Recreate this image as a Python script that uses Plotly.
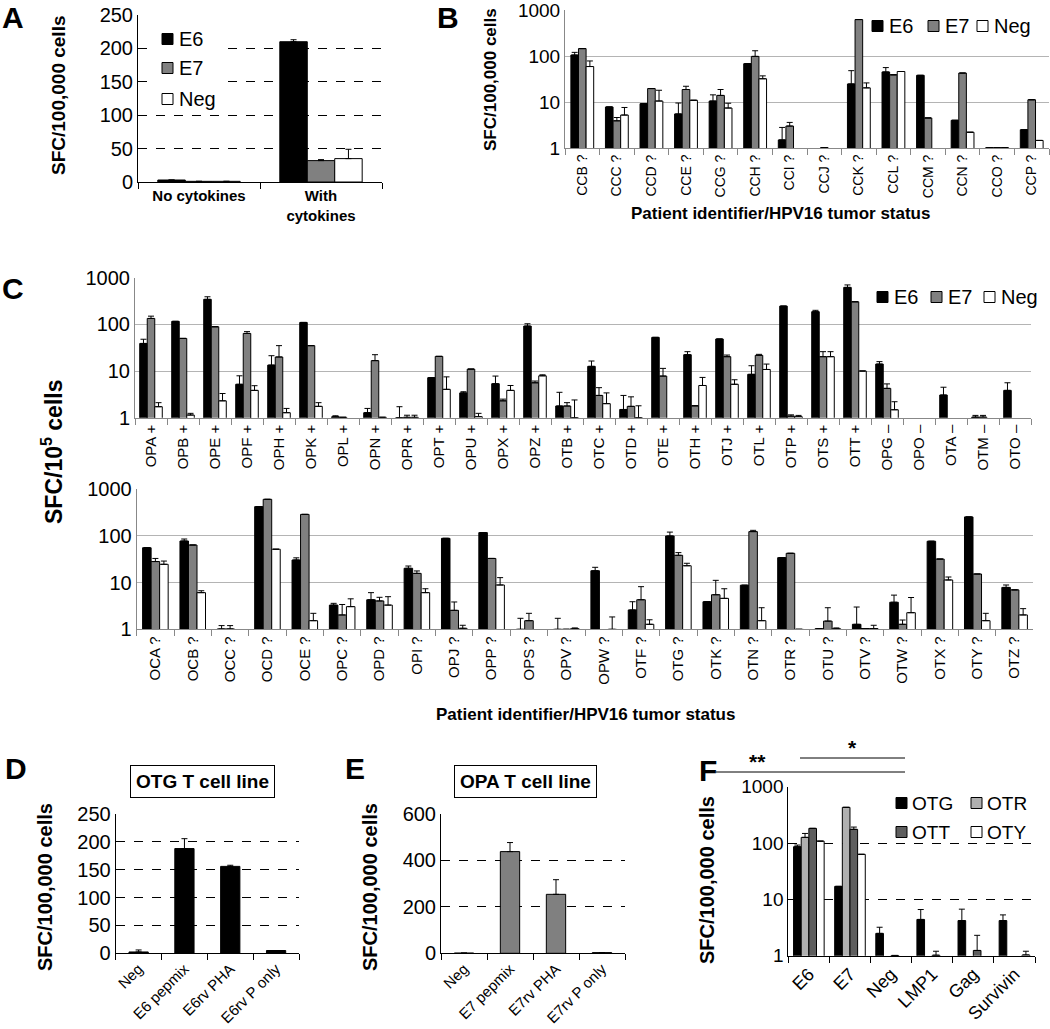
import plotly.graph_objects as go

W, H = 1050, 1029
FONT = "Liberation Sans, Arial, sans-serif"

# ---------------- data ----------------
# Panel A
cats_a = ["No cytokines", "With cytokines"]
a_e6 = [3.0, 210]
a_e6_hi = [None, 213]
a_e7 = [1.0, 32]
a_e7_hi = [None, 33.5]
a_neg = [1.0, 35]
a_neg_hi = [None, 49]

# Panel B
cats_b = ["CCB ?", "CCC ?", "CCD ?", "CCE ?", "CCG ?", "CCH ?", "CCI ?", "CCJ ?",
          "CCK ?", "CCL ?", "CCM ?", "CCN ?", "CCO ?", "CCP ?"]
b_e6 = [105, 7.8, 9.2, 5.5, 10.5, 68, 1.5, None, 24.7, 45, 38, 4.0, 1.02, 2.5]
b_e6_hi = [120, None, None, 9.5, 14.3, None, 2.8, None, 48, 56, None, None, None, None]
b_e7 = [145, 3.9, 19.6, 18.7, 13.9, 98, 3.0, 1.02, 620, 39, 4.5, 42.6, 1.02, 11.2]
b_e7_hi = [None, 4.6, None, 22, 18.7, 130, 3.6, None, None, None, None, None, None, None]
b_neg = [59, 5.2, 10.5, 10.9, 7.4, 32, None, None, 20.3, 46, None, 2.2, 1.02, 1.46]
b_neg_hi = [78, 7.6, 18, None, 9.4, 37, None, None, 26, None, None, None, None, None]

# Panel C (top row)
cats_c1 = ["OPA +", "OPB +", "OPE +", "OPF +", "OPH +", "OPK +", "OPL +", "OPN +", "OPR +",
           "OPT +", "OPU +", "OPX +", "OPZ +", "OTB +", "OTC +", "OTD +", "OTE +", "OTH +",
           "OTJ +", "OTL +", "OTP +", "OTS +", "OTT +", "OPG –", "OPO –", "OTA –", "OTM –", "OTO –"]
c1_e6 = [39, 116, 344, 5.2, 13.4, 110, 1.05, 1.28, 1.0, 7.2, 3.4, 5.35, 92, 1.78, 12.6, 1.5,
         52.6, 22.4, 48.5, 8.5, 246, 187, 620, 14.1, None, 3.06, 1.03, 3.85]
c1_e6_hi = [48, None, 390, 7.9, 21.3, None, 1.1, 1.58, 1.72, None, 3.6, 7.8, 103, 3.5, 16.4, 3.0,
            None, 26, None, 13, None, 200, 700, 15.9, None, 4.5, 1.12, 5.6]
c1_e7 = [134, 50, 89, 64, 20, 35, 1.02, 16.7, 1.02, 20.6, 11, 2.3, 5.6, 1.78, 3.0, 1.75,
         7.8, 1.8, 20.3, 21.7, 1.08, 20.3, 305, 4.25, None, None, 1.03, None]
c1_e7_hi = [150, None, None, 70, 35, None, None, 22.4, 1.13, None, None, 2.5, 6.1, 2.1, 4.4, 2.8,
            11.4, None, 22, 22.8, 1.15, 26, None, 5.3, None, None, 1.12, None]
c1_neg = [1.72, 1.14, 2.3, 3.85, 1.28, 1.75, None, 1.02, 1.02, 4.05, 1.05, 3.85, 7.9, 1.0, 2.0, 1.0,
          None, 4.9, 5.2, 10.8, 1.05, 20.3, 10, 1.48, None, None, None, None]
c1_neg_hi = [2.1, 1.24, 3.3, 4.85, 1.58, 2.1, None, None, 1.13, 7.5, 1.24, 4.9, 8.3, 2.4, 3.4, 1.8,
             None, 7.3, 6.5, 14.1, 1.12, 26, None, 2.2, None, None, None, None]

# Panel C (bottom row)
cats_c2 = ["OCA ?", "OCB ?", "OCC ?", "OCD ?", "OCE ?", "OPC ?", "OPD ?", "OPI ?", "OPJ ?",
           "OPP ?", "OPS ?", "OPV ?", "OPW ?", "OTF ?", "OTG ?", "OTK ?", "OTN ?", "OTR ?",
           "OTU ?", "OTV ?", "OTW ?", "OTX ?", "OTY ?", "OTZ ?"]
c2_e6 = [56, 78, 1.02, 425, 30.6, 3.3, 4.3, 20.3, 89, 118, 1.0, 1.0, 18, 2.6, 100, 3.9, 8.8,
         34.3, 1.03, 1.28, 3.8, 77, 256, 7.9]
c2_e6_hi = [None, 86, 1.2, None, 34, 3.6, 6.1, 22.7, None, None, 1.72, 1.72, 21.3, 3.9, 121, None,
            None, None, None, 3.0, 5.4, None, None, 8.9]
c2_e7 = [28.3, 64, 1.02, 610, 290, 2.03, 4.05, 15.8, 2.55, 33, 1.53, 1.0, None, 4.3, 38.5, 5.5,
         124, 42.5, 1.5, 1.04, 1.28, 32, 15.3, 7.0]
c2_e7_hi = [33, None, 1.2, None, None, 3.4, 4.85, 17.8, 3.85, None, 2.2, None, None, 8.2, 44, 11.2,
            132, None, 2.9, None, 1.58, None, None, None]
c2_neg = [24.7, 6.1, None, 52, 1.53, 3.06, 3.3, 6.1, 1.05, 8.9, None, 1.03, 1.0, 1.28, 23, 4.6,
          1.53, 1.0, 1.03, 1.04, 2.27, 11.4, 1.53, 2.03]
c2_neg_hi = [29, 6.7, None, None, 2.2, 4.5, 5.0, 7.4, 1.22, 12.8, None, 1.07, 1.84, 1.6, 26, 7.4,
             2.9, None, 1.07, 1.22, 4.8, 13.2, 2.2, 2.77]

# Panel D
cats_d = ["Neg", "E6 pepmix", "E6rv PHA", "E6rv P only"]
d_vals = [2.4, 188, 156, 5]
d_hi = [6, 205.7, 158, None]

# Panel E
cats_e = ["Neg", "E7 pepmix", "E7rv PHA", "E7rv P only"]
e_vals = [1, 438, 254, 3]
e_hi = [None, 477, 317, None]

# Panel F
cats_f = ["E6", "E7", "Neg", "LMP1", "Gag", "Survivin"]
f_otg = [86, 17, 2.49, 4.4, 4.2, 4.2]
f_otg_hi = [92, None, 3.2, 6.6, 6.7, 5.3]
f_otr = [126, 430, None, None, None, None]
f_otr_hi = [148, None, None, None, None, None]
f_ott = [182, 175, 1.01, 1.02, 1.24, None]
f_ott_hi = [None, 192, None, 1.2, 2.3, None]
f_oty = [108, 63, None, None, None, 1.03]
f_oty_hi = [None, None, None, None, None, 1.2]

# ---------------- helpers ----------------
def X(p):
    return p / W


def Y(p):
    return 1 - p / H


fig = go.Figure()


def add_bar(name, cats, vals, hi, color, ax, offset, width):
    err = [(h - v) if (h is not None and v is not None) else 0 for v, h in zip(vals, hi)]
    fig.add_trace(go.Bar(
        x=cats, y=vals, name=name,
        marker=dict(color=color, line=dict(color="black", width=1)),
        offset=offset, width=width,
        xaxis="x" + ax, yaxis="y" + ax,
        error_y=dict(type="data", array=err, arrayminus=[0] * len(err), symmetric=False,
                     color="black", thickness=1, width=3),
        showlegend=False, hoverinfo="skip",
    ))


BLK, GRY, WHT = "#000000", "#808080", "#ffffff"
LGRY, DGRY = "#b0b0b0", "#5e5e5e"

# A
w = 0.225
add_bar("E6", cats_a, a_e6, a_e6_hi, BLK, "", -1.5 * w, w)
add_bar("E7", cats_a, a_e7, a_e7_hi, GRY, "", -0.5 * w, w)
add_bar("Neg", cats_a, a_neg, a_neg_hi, WHT, "", 0.5 * w, w)
# B
w = 0.22
add_bar("E6", cats_b, b_e6, b_e6_hi, BLK, "2", -1.5 * w, w)
add_bar("E7", cats_b, b_e7, b_e7_hi, GRY, "2", -0.5 * w, w)
add_bar("Neg", cats_b, b_neg, b_neg_hi, WHT, "2", 0.5 * w, w)
# C top
w = 0.235
add_bar("E6", cats_c1, c1_e6, c1_e6_hi, BLK, "3", -1.5 * w, w)
add_bar("E7", cats_c1, c1_e7, c1_e7_hi, GRY, "3", -0.5 * w, w)
add_bar("Neg", cats_c1, c1_neg, c1_neg_hi, WHT, "3", 0.5 * w, w)
# C bottom
w = 0.228
add_bar("E6", cats_c2, c2_e6, c2_e6_hi, BLK, "4", -1.5 * w, w)
add_bar("E7", cats_c2, c2_e7, c2_e7_hi, GRY, "4", -0.5 * w, w)
add_bar("Neg", cats_c2, c2_neg, c2_neg_hi, WHT, "4", 0.5 * w, w)
# D
add_bar("OTG", cats_d, d_vals, d_hi, BLK, "5", -0.21, 0.42)
# E
add_bar("OPA", cats_e, e_vals, e_hi, GRY, "6", -0.21, 0.42)
# F
w = 0.186
add_bar("OTG", cats_f, f_otg, f_otg_hi, BLK, "7", -2 * w, w)
add_bar("OTR", cats_f, f_otr, f_otr_hi, LGRY, "7", -1 * w, w)
add_bar("OTT", cats_f, f_ott, f_ott_hi, DGRY, "7", 0, w)
add_bar("OTY", cats_f, f_oty, f_oty_hi, WHT, "7", 1 * w, w)


# ---------------- axes ----------------
def cat_x(dom, n, ax, linecolor="black", angle=0, size=12, ticktext=None, cats=None):
    d = dict(domain=[X(dom[0]), X(dom[1])], anchor="y" + ax, type="category",
             range=[-0.5, n - 0.5], showline=True, linecolor=linecolor, linewidth=1,
             ticks="outside", tickson="boundaries", ticklen=6, tickcolor=linecolor,
             tickangle=angle, tickfont=dict(size=size, family=FONT, color="black"),
             showgrid=False, zeroline=False, fixedrange=True, automargin=False,
             ticklabeloverflow="allow")
    if ticktext is not None:
        d["tickmode"] = "array"
        d["tickvals"] = cats
        d["ticktext"] = ticktext
    return d


def lin_y(dom, ax, rng, dtick, size=20):
    return dict(domain=[Y(dom[1]), Y(dom[0])], anchor="x" + ax, range=rng, dtick=dtick,
                showgrid=True, gridcolor="black", gridwidth=1, griddash="dash",
                showline=True, linecolor="black", linewidth=1, ticks="",
                tickfont=dict(size=size, family=FONT, color="black"), zeroline=False,
                fixedrange=True, automargin=False, ticklabeloverflow="allow")


def log_y(dom, ax, size=20, gridcolor="#b4b4b4", dash="solid", linecolor="#888888"):
    return dict(domain=[Y(dom[1]), Y(dom[0])], anchor="x" + ax, type="log", range=[0, 3],
                tickmode="array", tickvals=[1, 10, 100, 1000], ticktext=["1", "10", "100", "1000"],
                showgrid=True, gridcolor=gridcolor, gridwidth=1, griddash=dash,
                showline=True, linecolor=linecolor, linewidth=1, ticks="",
                tickfont=dict(size=size, family=FONT, color="black"), zeroline=False,
                fixedrange=True, automargin=False, ticklabeloverflow="allow")


fig.update_layout(
    width=W, height=H, margin=dict(l=0, r=0, t=0, b=0, pad=0, autoexpand=False),
    paper_bgcolor="white", plot_bgcolor="white", barmode="overlay", showlegend=False,
    font=dict(family=FONT, color="black"),
    xaxis=cat_x((138, 382), 2, "", size=15, cats=cats_a,
                ticktext=["<b>No cytokines</b>", "<b>With<br>cytokines</b>"]),
    yaxis=lin_y((15, 182), "", [0, 250], 50),
    xaxis2=cat_x((565, 1049), 14, "2", linecolor="#888888", angle=-90, size=14),
    yaxis2=log_y((10, 148), "2", size=19),
    xaxis3=cat_x((135, 1031), 28, "3", linecolor="#888888", angle=-90, size=15),
    yaxis3=log_y((277.7, 417.7), "3"),
    xaxis4=cat_x((136.7, 1033.3), 24, "4", linecolor="#888888", angle=-90, size=15),
    yaxis4=log_y((489.3, 629.3), "4"),
    xaxis5=cat_x((115.7, 299), 4, "5", angle=-45, size=15),
    yaxis5=lin_y((814, 953.3), "5", [0, 250], 50),
    xaxis6=cat_x((441, 625), 4, "6", angle=-45, size=15),
    yaxis6=lin_y((814, 953.3), "6", [0, 600], 200),
    xaxis7=cat_x((788.3, 1035), 6, "7", angle=-45, size=18),
    yaxis7=log_y((786.7, 955.7), "7", size=19, gridcolor="black", dash="dash", linecolor="black"),
)

ann = []
shapes = []


def text(px, py, s, size, bold=True, angle=0, box=False, xanchor="center", pad=4):
    d = dict(x=X(px), y=Y(py), xref="paper", yref="paper", showarrow=False,
             text=("<b>%s</b>" % s) if bold else s, textangle=angle,
             font=dict(size=size, family=FONT, color="black"),
             xanchor=xanchor, yanchor="middle")
    if box:
        d.update(bordercolor="black", borderwidth=1, borderpad=pad, bgcolor="white")
    ann.append(d)


def rect(x0, y0, x1, y1, fill, line="black", width=1):
    shapes.append(dict(type="rect", xref="paper", yref="paper", x0=X(x0), x1=X(x1),
                       y0=Y(y1), y1=Y(y0), fillcolor=fill, layer="above",
                       line=dict(color=line, width=width)))


def line(x0, y0, x1, y1):
    shapes.append(dict(type="line", xref="paper", yref="paper", x0=X(x0), x1=X(x1),
                       y0=Y(y0), y1=Y(y1), layer="above", line=dict(color="black", width=1)))


def legend_item(x0, yc, size, fill, label, fsize, gap=4):
    rect(x0, yc - size / 2, x0 + size, yc + size / 2, fill)
    text(x0 + size + gap, yc, label, fsize, bold=False, xanchor="left")


# legend A (white box hides the dashed grid behind it)
rect(147, 24, 228, 109, "white", line="white", width=0)
legend_item(162, 39, 11, BLK, "E6", 20)
legend_item(162, 68, 11, GRY, "E7", 20)
legend_item(162, 99, 11, WHT, "Neg", 20)
# legend B
legend_item(872, 26, 11, BLK, "E6", 20)
legend_item(928, 26, 11, GRY, "E7", 20)
legend_item(977, 26, 11, WHT, "Neg", 20)
# legend C
legend_item(877, 297, 11, BLK, "E6", 20)
legend_item(931, 297, 11, GRY, "E7", 20)
legend_item(984, 297, 11, WHT, "Neg", 20)
# legend F
legend_item(896, 803, 11, BLK, "OTG", 19, gap=3)
legend_item(971, 803, 11, LGRY, "OTR", 19, gap=3)
legend_item(896, 832, 11, DGRY, "OTT", 19, gap=3)
legend_item(971, 832, 11, WHT, "OTY", 19, gap=3)

# panel letters
text(13, 17, "A", 30)
text(448, 17, "B", 30)
text(13, 289, "C", 30)
text(16, 768, "D", 30)
text(355, 768, "E", 30)
text(708, 770, "F", 30)
# y titles
text(58, 95, "SFC/100,000 cells", 19, angle=-90)
text(491, 80, "SFC/100,000 cells", 17, angle=-90)
text(52, 452, "SFC/10<sup>5</sup> cells", 23, angle=-90)
text(45, 887, "SFC/100,000 cells", 20, angle=-90)
text(370, 887, "SFC/100,000 cells", 20, angle=-90)
text(707, 880, "SFC/100,000 cells", 20, angle=-90)
# x titles
text(780, 213, "Patient identifier/HPV16 tumor status", 17)
text(585, 714, "Patient identifier/HPV16 tumor status", 17)
# titles D, E
text(202, 781, "OTG T cell line", 19, box=True, pad=5)
text(525, 781, "OPA T cell line", 19, box=True, pad=5)
# significance marks in F
text(757, 761, "**", 21)
line(716, 772, 905, 772)
text(852, 747, "*", 21)
line(800, 758, 905, 758)

fig.update_layout(annotations=ann, shapes=shapes)

fig.write_html("out.html", config={"displayModeBar": False},
               post_script="document.body.style.margin='0px';document.body.style.overflow='hidden';")
